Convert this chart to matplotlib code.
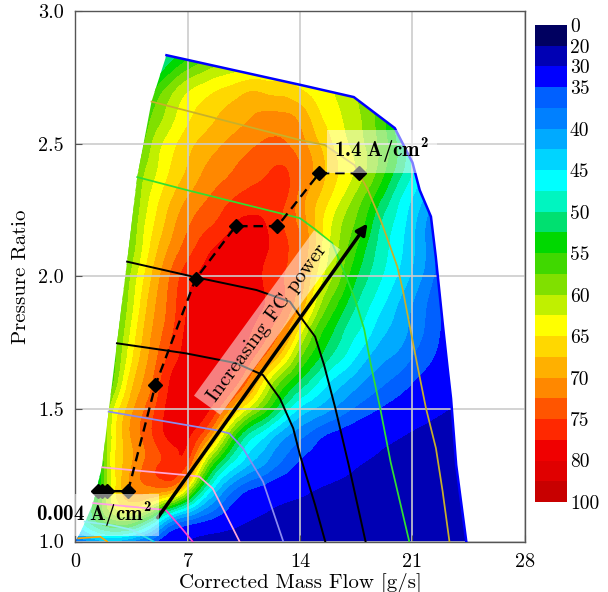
import numpy as np
import matplotlib
matplotlib.use('Agg')
import matplotlib.pyplot as plt
import matplotlib.tri as mtri
from matplotlib.path import Path
from matplotlib.patches import PathPatch
from matplotlib.ticker import FormatStrFormatter

plt.rcParams['font.family'] = 'cmr10'
plt.rcParams['mathtext.fontset'] = 'custom'
plt.rcParams['mathtext.rm'] = 'cmb10'
plt.rcParams['mathtext.it'] = 'cmb10'
plt.rcParams['mathtext.bf'] = 'cmb10'
plt.rcParams['axes.formatter.use_mathtext'] = False

# ---- efficiency [%]: rows = pressure ratio, cols = mass flow [g/s]
flow_grid = list(range(26))
pr_grid = [1.0, 1.1, 1.2, 1.3, 1.4, 1.5, 1.6, 1.7, 1.8, 1.9,
           2.0, 2.1, 2.2, 2.3, 2.4, 2.5, 2.6, 2.7, 2.8, 2.9]
eff_grid = [
    [36, 40, 42, 41, 38, 35, 32, 29.7, 28, 27, 26.3, 25.7, 25.2, 24.8, 24.4, 24, 23.7, 23.4, 23.1, 22.9, 22.7, 22.5, 22.3, 22.2, 22.1, 22],
    [45, 52, 58, 61, 59, 52.5, 44.8, 40.7, 37.5, 35, 32.5, 30.6, 29.5, 28.6, 27.9, 27.3, 26.8, 26.3, 25.8, 25.4, 25, 24.6, 24.3, 24, 23.7, 23.4],
    [40, 48, 60, 68, 71.5, 72, 71, 62.5, 50, 42.2, 37.5, 35, 33.6, 32.2, 31.2, 30.1, 29.2, 28.5, 27.8, 27.2, 26.6, 26.1, 25.6, 25.2, 24.8, 24.5],
    [40, 46, 60, 67.5, 71.5, 74.5, 76.4, 75, 62.5, 52.5, 46.5, 42.5, 39.7, 37, 34.7, 33.5, 32.3, 31.1, 30, 29.2, 28.5, 27.8, 27.2, 26.7, 26.2, 25.8],
    [42, 48, 59.5, 67.7, 72.1, 75.5, 78.3, 77.9, 73.5, 64.5, 54.5, 48.3, 44.5, 40.7, 38.2, 36, 34.4, 33.4, 32.3, 31.3, 30.4, 29.5, 28.7, 28, 27.5, 27],
    [43.5, 48.5, 58.5, 66.4, 71.3, 75, 78.6, 79.2, 78.5, 74.4, 67.1, 60.6, 55, 49.2, 44.5, 42.1, 40, 37.9, 36.2, 34.8, 33.6, 32.5, 31.4, 30.3, 29.5, 29],
    [43.5, 48, 54, 62.8, 69.1, 73.3, 77.9, 79.1, 79.1, 78.3, 75.6, 70, 62.2, 56.1, 51.8, 47.9, 44.5, 42, 39.7, 38.1, 36.6, 35, 33.7, 32.5, 31.5, 30.5],
    [43.5, 48, 53.5, 60.7, 67.2, 71.8, 76, 78.5, 79.2, 78.8, 78, 75.6, 71.2, 65.1, 58, 53.5, 49.7, 46.7, 43.4, 40.9, 39.6, 37.5, 35.6, 33.6, 31.5, 30],
    [43, 47.5, 53, 59.3, 65.9, 70.7, 74.4, 78, 78.8, 79, 78.4, 77.5, 75.4, 71.5, 64, 57, 52.9, 49.2, 46.7, 43.5, 41.6, 39.2, 36.8, 34.3, 32, 30],
    [42.5, 47, 52, 58.1, 64.5, 69.8, 73.6, 77.5, 78.4, 78.8, 78.6, 78.2, 77.2, 75, 70, 62, 56.5, 52.1, 48.6, 45.8, 42.8, 40, 37.2, 34.5, 32, 30],
    [42, 46, 50.5, 57, 63.2, 68.6, 72.9, 76.4, 78, 78.4, 78.4, 78, 76.9, 75, 71.8, 65, 60, 55, 50.8, 47.8, 45, 41.9, 38.6, 35, 32, 30],
    [41, 45, 49.5, 55.5, 61.4, 66.8, 70.8, 73.9, 76.5, 78, 78.3, 78.2, 77.5, 75.6, 72.5, 66.9, 61.5, 57.1, 52.7, 48.9, 46.1, 42.9, 39.2, 35, 32, 30],
    [40, 44, 48.5, 54, 60.5, 65.2, 69, 72, 74, 75.6, 77.5, 78, 77.2, 74.7, 71.7, 67, 62.3, 58.6, 55, 50, 46.9, 43.3, 39.2, 35, 32, 30],
    [39, 43, 47.5, 53, 59.4, 63.8, 67.2, 69.9, 71.9, 73.5, 75, 76, 76.5, 75.6, 71.5, 67.9, 64.6, 61.1, 57.3, 53, 48.6, 45, 41.1, 36.5, 33.5, 31],
    [37, 41, 45.5, 50.5, 58, 62.1, 65.3, 67.7, 70, 71.4, 72.7, 73.7, 74.7, 75.3, 72.6, 69.4, 66, 63.5, 60.3, 56.3, 51.8, 47.5, 42.5, 37.5, 34, 31.5],
    [36, 40, 44, 49, 55.5, 60.9, 64, 66.5, 68.3, 69.7, 71, 72.1, 72.9, 72.8, 71, 68.1, 65, 62.5, 60, 56.8, 52.5, 47.5, 43.2, 39, 36, 33.5],
    [35, 39, 43, 48, 54, 58.4, 61.6, 64.4, 66.2, 67.7, 68.9, 70, 70.7, 70.6, 69.3, 66, 63.7, 61.7, 59.4, 56.1, 51.5, 46.5, 42.5, 39, 36.5, 34],
    [32, 35.5, 39.5, 44, 49.5, 55.3, 59.2, 62.2, 63.8, 65.2, 66.3, 67.4, 66.8, 66.5, 65.3, 64, 62.6, 60.8, 59, 56.3, 52.9, 49.5, 46, 43, 40.5, 38],
    [28, 31.5, 35, 39, 43.5, 48.5, 53, 56, 58.2, 59.7, 60.8, 61.5, 62, 62.5, 62.5, 62, 61, 59.5, 58.5, 56, 53, 50, 47, 44, 41.5, 39],
    [24, 27.5, 31, 35, 39.5, 44.5, 49, 52, 54.5, 56.5, 57.5, 58.5, 59, 59.5, 59.5, 59, 58, 56.5, 54.5, 52, 49.5, 47, 44.5, 42, 40, 38],
]

# ---- map boundary: surge line and highest speed line
surge_flow = [0.0, 0.3, 0.6, 1.13, 1.67, 2.09, 2.61, 3.24, 3.87, 4.76, 5.69]
surge_pr = [1.0, 1.03, 1.07, 1.145, 1.28, 1.49, 1.748, 2.056, 2.375, 2.66, 2.835]
top_flow = [5.69, 14.1, 17.35, 19.9, 21.0, 21.45, 22.15, 22.45, 22.88, 23.2, 23.4, 23.72, 24.35]
top_pr = [2.835, 2.722, 2.677, 2.56, 2.43, 2.326, 2.226, 2.075, 1.824, 1.647, 1.54, 1.289, 1.0]

# ---- speed lines (low -> high)
speed_flow = [
    [0.2, 1.57, 2.0],
    [0.6, 2.2, 3.5, 4.9],
    [1.13, 4.6, 5.64, 6.5, 7.32],
    [1.67, 7.0, 7.73, 8.57, 10.24],
    [2.09, 8.8, 9.6, 10.45, 11.7, 12.96],
    [2.61, 6.9, 10.03, 11.7, 12.75, 13.58, 14.0, 14.94, 15.57],
    [3.24, 7.52, 11.29, 13.37, 14.1, 14.94, 15.5, 16.2, 17.03, 18.08],
    [3.87, 6.9, 14.0, 14.9, 16.0, 16.8, 17.45, 18.0, 18.4, 19.0, 19.64, 20.8],
    [4.76, 9.4, 14.0, 15.55, 17.4, 18.2, 19.1, 20.06, 20.4, 21.0, 21.32, 21.84, 22.46, 22.88, 23.3],
]
speed_pr = [
    [1.012, 1.018, 1.0],
    [1.075, 1.062, 1.045, 1.0],
    [1.145, 1.125, 1.119, 1.06, 1.0],
    [1.28, 1.25, 1.245, 1.20, 1.0],
    [1.49, 1.42, 1.408, 1.352, 1.226, 1.0],
    [1.748, 1.71, 1.673, 1.628, 1.54, 1.427, 1.326, 1.138, 1.0],
    [2.056, 1.997, 1.949, 1.905, 1.842, 1.773, 1.666, 1.503, 1.289, 1.0],
    [2.375, 2.327, 2.22, 2.18, 2.126, 2.01, 1.91, 1.80, 1.67, 1.50, 1.30, 1.0],
    [2.66, 2.587, 2.515, 2.496, 2.42, 2.33, 2.20, 2.037, 1.949, 1.76, 1.66, 1.503, 1.352, 1.188, 1.0],
]
speed_colors = ['#ffa500', '#22dde8', '#ff3fd0', '#ffa8d8', '#8c8cf0',
                'black', 'black', '#30e030', '#c8b02a']

# ---- operating line of the fuel cell system
op_flow = [1.4, 1.7, 2.0, 3.3, 5.0, 7.5, 10.0, 12.6, 15.2, 17.7]
op_pr = [1.19, 1.19, 1.19, 1.19, 1.59, 1.99, 2.19, 2.19, 2.39, 2.39]

levels = [0, 20, 30, 35, 37.5, 40, 42.5, 45, 47.5, 50, 52.5, 55, 57.5, 60,
          62.5, 65, 67.5, 70, 72.5, 75, 77.5, 80, 82.5, 100]
band_colors = ['#000060', '#0000b4', '#0000ff', '#0060ff', '#0080ff', '#00aaff',
               '#00d4ff', '#00ffff', '#00f5c0', '#00e070', '#00d800', '#40d800',
               '#80e000', '#c0f000', '#ffff00', '#ffd800', '#ffb000', '#ff8800',
               '#ff5500', '#ff2800', '#f00000', '#e00000', '#c80000']
cbar_ticks = [0, 20, 30, 35, 40, 45, 50, 55, 60, 65, 70, 75, 80, 100]

fig = plt.figure(figsize=(6.08, 5.92), dpi=100)
ax = fig.add_axes([0.1234, 0.0853, 0.740, 0.8953])

# filled efficiency contours, smoothed with a cubic refiner and clipped to the map
X, Y = np.meshgrid(flow_grid, pr_grid)
tri = mtri.Triangulation(X.ravel(), Y.ravel())
tri_f, z_f = mtri.UniformTriRefiner(tri).refine_field(np.array(eff_grid, float).ravel(), subdiv=3)
cs = ax.tricontourf(tri_f, z_f, levels=levels, colors=band_colors, zorder=1)

verts = list(zip(surge_flow, surge_pr)) + list(zip(top_flow[1:], top_pr[1:]))
verts += [(top_flow[-1], 0.9), (0, 0.9), verts[0]]
clip = PathPatch(Path(verts, closed=True), transform=ax.transData, fc='none', ec='none')
ax.add_patch(clip)
cs.set_clip_path(clip)

for f, p, c in zip(speed_flow, speed_pr, speed_colors):
    ax.plot(f, p, color=c, lw=1.4 if c == 'black' else 1.25, zorder=3)
ax.plot(top_flow, top_pr, color='#0000ff', lw=1.8, zorder=3)

ax.plot(op_flow, op_pr, color='black', ls='--', dashes=(4, 2.5), lw=1.7,
        marker='D', ms=7, zorder=4)

ax.annotate('', xy=(18.2, 2.2), xytext=(5.15, 1.09),
            arrowprops=dict(arrowstyle='-|>', color='black', lw=2.5,
                            mutation_scale=16, shrinkA=0, shrinkB=0), zorder=5)
ax.text(11.96, 1.826, 'Increasing FC power', rotation=54, rotation_mode='anchor',
        ha='center', va='center', fontsize=15, zorder=6,
        bbox=dict(boxstyle='square,pad=0.35', fc='white', ec='none', alpha=0.5))

box = dict(boxstyle='square,pad=0.35', fc='white', ec='none', alpha=0.5)
# box clipped at the axes, text itself free to run past the y axis
ax.text(1.16, 1.10, r'$0.004\ A/cm^2$', ha='center', va='center', fontsize=15,
        color='none', zorder=6, bbox=box, clip_on=True)
ax.text(1.16, 1.10, r'$0.004\ A/cm^2$', ha='center', va='center', fontsize=15,
        zorder=7)
ax.text(19.09, 2.472, r'$1.4\ A/cm^2$', ha='center', va='center',
        fontsize=15, zorder=6, bbox=box)

ax.set_xlim(0, 28)
ax.set_ylim(1, 3)
ax.set_xticks([0, 7, 14, 21, 28])
ax.set_yticks([1.0, 1.5, 2.0, 2.5, 3.0])
ax.xaxis.set_major_formatter(FormatStrFormatter('%d'))
ax.yaxis.set_major_formatter(FormatStrFormatter('%.1f'))
ax.grid(True, color='#cccccc', lw=1.2)
ax.tick_params(direction='in', length=5, color='#555555', labelsize=14.5, pad=8)
for s in ax.spines.values():
    s.set_color('#555555')
    s.set_linewidth(1.0)
ax.set_xlabel('Corrected Mass Flow [g/s]', fontsize=15, labelpad=2)
ax.set_ylabel('Pressure Ratio', fontsize=15, labelpad=6)

cax = fig.add_axes([0.880, 0.152, 0.0526, 0.806])
cb = fig.colorbar(cs, cax=cax, ticks=cbar_ticks, spacing='uniform')
cb.ax.invert_yaxis()
cb.outline.set_visible(False)
cb.set_ticklabels([str(t) for t in cbar_ticks])
cax.tick_params(length=0, labelsize=14, pad=2)

fig.savefig('out.png', dpi=100)
